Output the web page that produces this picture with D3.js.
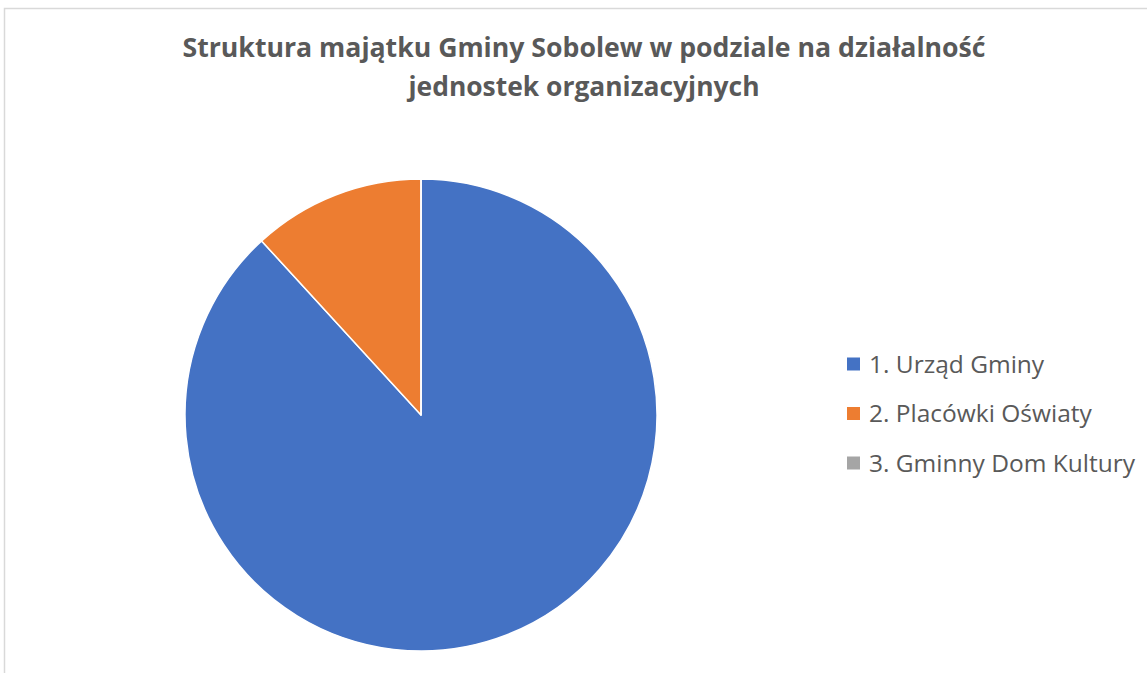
<!DOCTYPE html>
<html>
<head>
<meta charset="utf-8">
<script src="https://cdn.jsdelivr.net/npm/d3@7"></script>
<style>
  body { margin: 0; background: #fff; }
  svg { display: block; }
</style>
</head>
<body>
<svg width="1147" height="673"></svg>
<script>
var categories = ["1. Urząd Gminy", "2. Placówki Oświaty", "3. Gminny Dom Kultury"];
var values = [88.2, 11.8, 0];
var colors = ["#4472c4", "#ed7d31", "#a5a5a5"];
var titleLines = ["Struktura majątku Gminy Sobolew w podziale na działalność", "jednostek organizacyjnych"];
var titleWidths = [803, 351];

var svg = d3.select("svg"),
    width = +svg.attr("width"),
    height = +svg.attr("height"),
    radius = 236,
    cx = 421, cy = 415;

// chart area border
svg.append("rect")
  .attr("x", 4.5).attr("y", 8.5)
  .attr("width", width + 10).attr("height", height + 10)
  .attr("fill", "#fff")
  .attr("stroke", "#d9d9d9")
  .attr("stroke-width", 1.5);

// title (Calibri not available, so stretch to the reference width)
var title = svg.append("g").attr("font-family", "'Open Sans', sans-serif")
  .attr("font-weight", "bold").attr("fill", "#595959").attr("text-anchor", "middle");
titleLines.forEach(function(t, i) {
  title.append("text")
    .attr("x", 584).attr("y", 57 + i * 39)
    .attr("font-size", 26)
    .attr("textLength", titleWidths[i])
    .attr("lengthAdjust", "spacingAndGlyphs")
    .text(t);
});

var color = d3.scaleOrdinal().domain(categories).range(colors);
var pie = d3.pie().sort(null).value(function(d) { return d.v; });
var arc = d3.arc().innerRadius(0).outerRadius(radius);

var data = categories.map(function(c, i) { return {c: c, v: values[i]}; });

var g = svg.append("g").attr("transform", "translate(" + cx + "," + cy + ")");
g.selectAll("path")
  .data(pie(data))
  .enter()
  .append("path")
  .attr("d", arc)
  .attr("fill", function(d) { return color(d.data.c); })
  .attr("stroke", "#fff")
  .attr("stroke-width", 1.5)
  .attr("stroke-linejoin", "round");

// legend
var legend = svg.append("g").attr("font-family", "'Open Sans', sans-serif");
var rows = legend.selectAll("g")
  .data(categories)
  .enter()
  .append("g")
  .attr("transform", function(d, i) { return "translate(847," + (364 + i * 49.5) + ")"; });
rows.append("rect")
  .attr("x", 0).attr("y", -6.5)
  .attr("width", 13).attr("height", 13)
  .attr("fill", function(d) { return color(d); });
rows.append("text")
  .attr("x", 22).attr("y", 0)
  .attr("dy", "0.36em")
  .attr("font-size", 24.5)
  .attr("fill", "#595959")
  .text(function(d) { return d; });
</script>
</body>
</html>
